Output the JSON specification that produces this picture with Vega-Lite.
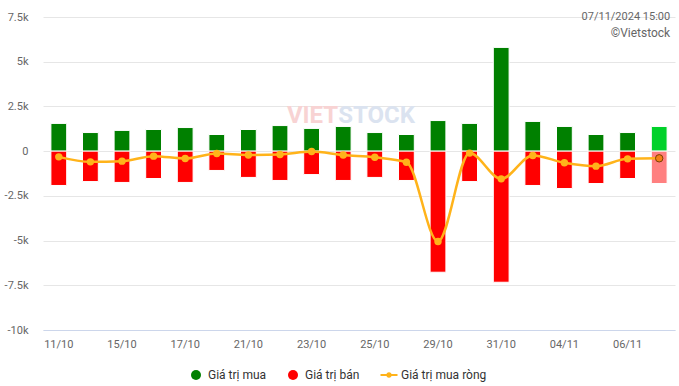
{
  "$schema": "https://vega.github.io/schema/vega-lite/v6.json",
  "width": 632,
  "height": 313,
  "autosize": {"type": "none"},
  "padding": {"left": 43, "top": 17, "right": 4, "bottom": 56},
  "background": "white",
  "config": {
    "font": "Roboto",
    "view": {"stroke": null},
    "axis": {"labelFont": "Roboto", "labelColor": "#666666", "labelFontSize": 11}
  },
  "datasets": {
    "bars": [
      {"d": "11/10", "s": "Giá trị mua", "v": 1550}, {"d": "11/10", "s": "Giá trị bán", "v": -1920},
      {"d": "14/10", "s": "Giá trị mua", "v": 1040}, {"d": "14/10", "s": "Giá trị bán", "v": -1700},
      {"d": "15/10", "s": "Giá trị mua", "v": 1160}, {"d": "15/10", "s": "Giá trị bán", "v": -1750},
      {"d": "16/10", "s": "Giá trị mua", "v": 1210}, {"d": "16/10", "s": "Giá trị bán", "v": -1530},
      {"d": "17/10", "s": "Giá trị mua", "v": 1320}, {"d": "17/10", "s": "Giá trị bán", "v": -1750},
      {"d": "18/10", "s": "Giá trị mua", "v": 930}, {"d": "18/10", "s": "Giá trị bán", "v": -1080},
      {"d": "21/10", "s": "Giá trị mua", "v": 1210}, {"d": "21/10", "s": "Giá trị bán", "v": -1470},
      {"d": "22/10", "s": "Giá trị mua", "v": 1430}, {"d": "22/10", "s": "Giá trị bán", "v": -1640},
      {"d": "23/10", "s": "Giá trị mua", "v": 1270}, {"d": "23/10", "s": "Giá trị bán", "v": -1310},
      {"d": "24/10", "s": "Giá trị mua", "v": 1380}, {"d": "24/10", "s": "Giá trị bán", "v": -1640},
      {"d": "25/10", "s": "Giá trị mua", "v": 1040}, {"d": "25/10", "s": "Giá trị bán", "v": -1470},
      {"d": "28/10", "s": "Giá trị mua", "v": 930}, {"d": "28/10", "s": "Giá trị bán", "v": -1640},
      {"d": "29/10", "s": "Giá trị mua", "v": 1710}, {"d": "29/10", "s": "Giá trị bán", "v": -6770},
      {"d": "30/10", "s": "Giá trị mua", "v": 1550}, {"d": "30/10", "s": "Giá trị bán", "v": -1700},
      {"d": "31/10", "s": "Giá trị mua", "v": 5800}, {"d": "31/10", "s": "Giá trị bán", "v": -7330},
      {"d": "01/11", "s": "Giá trị mua", "v": 1660}, {"d": "01/11", "s": "Giá trị bán", "v": -1920},
      {"d": "04/11", "s": "Giá trị mua", "v": 1380}, {"d": "04/11", "s": "Giá trị bán", "v": -2090},
      {"d": "05/11", "s": "Giá trị mua", "v": 930}, {"d": "05/11", "s": "Giá trị bán", "v": -1810},
      {"d": "06/11", "s": "Giá trị mua", "v": 1040}, {"d": "06/11", "s": "Giá trị bán", "v": -1530},
      {"d": "07/11", "s": "Giá trị mua", "v": 1380}, {"d": "07/11", "s": "Giá trị bán", "v": -1810}
    ],
    "net": [
      {"d": "11/10", "s": "Giá trị mua ròng", "v": -320},
      {"d": "14/10", "s": "Giá trị mua ròng", "v": -600},
      {"d": "15/10", "s": "Giá trị mua ròng", "v": -560},
      {"d": "16/10", "s": "Giá trị mua ròng", "v": -280},
      {"d": "17/10", "s": "Giá trị mua ròng", "v": -410},
      {"d": "18/10", "s": "Giá trị mua ròng", "v": -130},
      {"d": "21/10", "s": "Giá trị mua ròng", "v": -220},
      {"d": "22/10", "s": "Giá trị mua ròng", "v": -190},
      {"d": "23/10", "s": "Giá trị mua ròng", "v": -20},
      {"d": "24/10", "s": "Giá trị mua ròng", "v": -220},
      {"d": "25/10", "s": "Giá trị mua ròng", "v": -340},
      {"d": "28/10", "s": "Giá trị mua ròng", "v": -620},
      {"d": "29/10", "s": "Giá trị mua ròng", "v": -5050},
      {"d": "30/10", "s": "Giá trị mua ròng", "v": -110},
      {"d": "31/10", "s": "Giá trị mua ròng", "v": -1550},
      {"d": "01/11", "s": "Giá trị mua ròng", "v": -240},
      {"d": "04/11", "s": "Giá trị mua ròng", "v": -650},
      {"d": "05/11", "s": "Giá trị mua ròng", "v": -840},
      {"d": "06/11", "s": "Giá trị mua ròng", "v": -430},
      {"d": "07/11", "s": "Giá trị mua ròng", "v": -400}
    ],
    "notes": [
      {"d": "07/11", "v": 7500, "t": "07/11/2024 15:00", "dy": -8},
      {"d": "07/11", "v": 6630, "t": "©Vietstock", "dy": 0}
    ],
    "wm1": [{"d": "24/10", "v": 1940, "t": "VIET"}],
    "wm2": [{"d": "24/10", "v": 1940, "t": "STOCK"}]
  },
  "encoding": {
    "x": {
      "field": "d", "type": "ordinal",
      "scale": {
        "type": "band", "paddingInner": 0.5, "paddingOuter": 0.25,
        "domain": ["11/10", "14/10", "15/10", "16/10", "17/10", "18/10", "21/10", "22/10", "23/10", "24/10", "25/10", "28/10", "29/10", "30/10", "31/10", "01/11", "04/11", "05/11", "06/11", "07/11"]
      },
      "axis": {
        "title": null, "labelAngle": 0, "ticks": false, "grid": false,
        "domainColor": "#ccd6eb", "labelPadding": 8,
        "values": ["11/10", "15/10", "17/10", "21/10", "23/10", "25/10", "29/10", "31/10", "04/11", "06/11"]
      }
    },
    "y": {
      "field": "v", "type": "quantitative",
      "scale": {"domain": [-10000, 7500], "nice": false, "zero": false},
      "axis": {
        "title": null, "domain": false, "ticks": false, "gridColor": "#e6e6e6",
        "values": [-10000, -7500, -5000, -2500, 0, 2500, 5000, 7500],
        "labelExpr": "datum.value == 0 ? '0' : (datum.value / 1000) + 'k'",
        "labelPadding": 15
      }
    }
  },
  "layer": [
    {
      "data": {"name": "wm1"},
      "mark": {"type": "text", "align": "right", "font": "Roboto", "fontSize": 24, "fontWeight": "bold", "color": "#f8d3d3", "dx": -5},
      "encoding": {"text": {"field": "t"}}
    },
    {
      "data": {"name": "wm2"},
      "mark": {"type": "text", "align": "left", "font": "Roboto", "fontSize": 24, "fontWeight": "bold", "color": "#dbe3f0", "dx": -5},
      "encoding": {"text": {"field": "t"}}
    },
    {
      "data": {"name": "bars"},
      "mark": {"type": "bar", "stroke": "white", "strokeWidth": 1},
      "encoding": {
        "color": {
          "condition": [
            {"test": "datum.d == '07/11' && datum.s == 'Giá trị mua'", "value": "#00d12a"},
            {"test": "datum.d == '07/11' && datum.s == 'Giá trị bán'", "value": "#ff8080"}
          ],
          "field": "s", "type": "nominal",
          "scale": {"domain": ["Giá trị mua", "Giá trị bán", "Giá trị mua ròng"], "range": ["#008000", "#ff0000", "#ffb31a"]},
          "legend": {
            "title": null, "orient": "none", "direction": "horizontal", "columns": 3,
            "legendX": 147, "legendY": 352,
            "symbolSize": 100, "symbolStrokeWidth": 0,
            "labelFont": "Roboto", "labelFontSize": 12, "labelColor": "#333333",
            "columnPadding": 20, "labelOffset": 6
          }
        }
      }
    },
    {
      "data": {"name": "net"},
      "mark": {"type": "line", "interpolate": "monotone", "strokeWidth": 2.5},
      "encoding": {"color": {"field": "s", "type": "nominal"}}
    },
    {
      "data": {"name": "net"},
      "mark": {"type": "point", "filled": true, "size": 55, "opacity": 1, "stroke": "#7a3e00"},
      "encoding": {
        "color": {
          "condition": {"test": "datum.d == '07/11'", "value": "#f57f17"},
          "field": "s", "type": "nominal"
        },
        "shape": {
          "condition": {"test": "true", "value": "circle"},
          "field": "s", "type": "nominal",
          "scale": {"domain": ["Giá trị mua", "Giá trị bán", "Giá trị mua ròng"], "range": ["circle", "circle", "M-1.7,-0.2H1.7V0.2H-1.7Z M0.55,0A0.55,0.55,0,1,1,-0.55,0A0.55,0.55,0,1,1,0.55,0"]}
        },
        "strokeWidth": {"condition": {"test": "datum.d == '07/11'", "value": 1}, "value": 0}
      }
    },
    {
      "data": {"name": "notes"},
      "mark": {"type": "text", "align": "right", "baseline": "middle", "font": "Roboto", "color": "#666666", "dx": 11},
      "encoding": {
        "text": {"field": "t"},
        "dy": {"field": "dy", "type": "quantitative", "scale": null},
        "size": {"condition": {"test": "datum.t == '©Vietstock'", "value": 12}, "value": 11}
      }
    }
  ]
}
